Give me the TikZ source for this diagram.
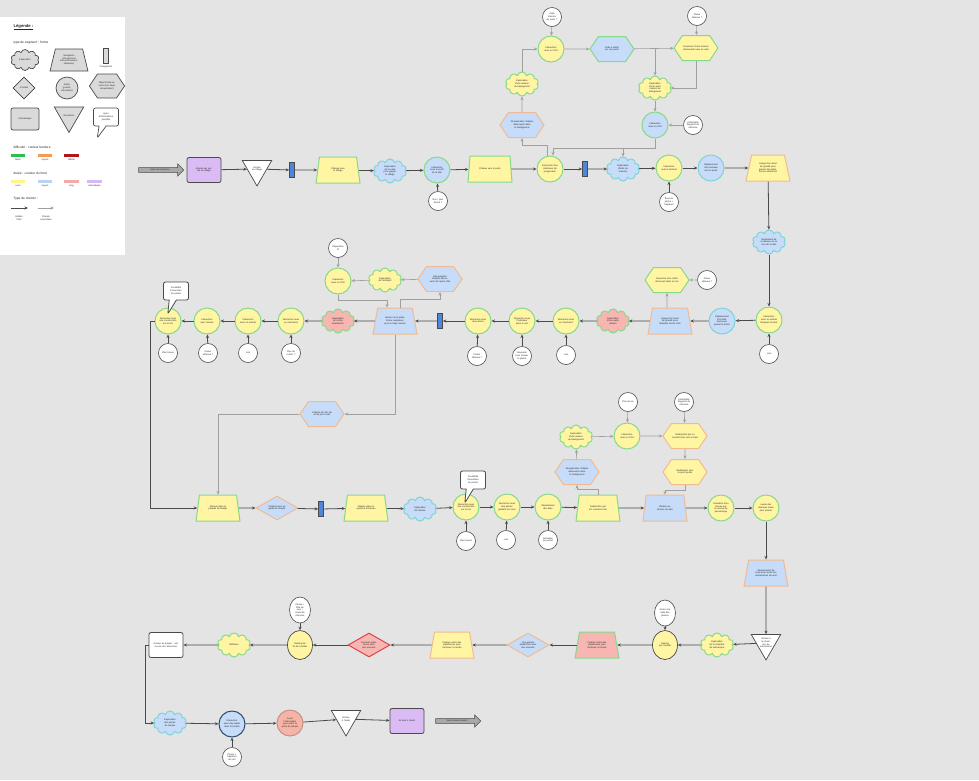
\documentclass[tikz,border=0pt]{standalone}
\usepackage{fontspec}
\setmainfont{Liberation Sans}
\usetikzlibrary{shapes.geometric,shapes.symbols,shapes.misc,shapes.callouts,shapes.arrows,arrows.meta}
\definecolor{bgc}{HTML}{E4E4E4}
\definecolor{yelF}{HTML}{FFF5A3}
\definecolor{bluF}{HTML}{C6DCF8}
\definecolor{pnkF}{HTML}{F7B6B1}
\definecolor{purF}{HTML}{DABBF4}
\definecolor{grnB}{HTML}{86D98A}
\definecolor{orgB}{HTML}{F2BA90}
\definecolor{tealB}{HTML}{7FD3D8}
\definecolor{redB}{HTML}{D9474A}
\definecolor{navB}{HTML}{2F4A6B}
\definecolor{lnC}{HTML}{4A4A4A}
\definecolor{lnD}{HTML}{A0A0A0}
\definecolor{barF}{HTML}{4F86D9}
\definecolor{legF}{HTML}{DADADA}
\definecolor{salF}{HTML}{F6B4A6}
\definecolor{arrF}{HTML}{A8A8A8}
\definecolor{lgG}{HTML}{2EBD4F}
\definecolor{lgO}{HTML}{F39C4F}
\definecolor{lgR}{HTML}{B3141B}
\definecolor{lgY}{HTML}{FFF38A}
\definecolor{lgB}{HTML}{B9D3F5}
\definecolor{lgP}{HTML}{F5AAAA}
\definecolor{lgV}{HTML}{D5B8F5}
\begin{document}
\begin{tikzpicture}[x=1pt,y=-1pt,
 every node/.style={font=\fontsize{2.3}{2.7}\selectfont, align=center, text=black!85},
 nbase/.style={inner sep=0.5pt},
 circ/.style={nbase, circle, line width=1pt, minimum size=26pt, text width=18pt},
 wc/.style={nbase, circle, fill=white, draw=lnC, line width=0.6pt, minimum size=19pt, text width=13pt},
 wel/.style={nbase, ellipse, fill=white, draw=lnC, line width=0.6pt, minimum width=21pt, minimum height=26pt, text width=12pt},
 yel/.style={nbase, ellipse, fill=yelF, draw=lnC, line width=0.7pt, minimum width=25pt, minimum height=29pt, text width=15pt},
 cloudn/.style={nbase, cloud, cloud puffs=10, aspect=1.5, minimum width=33pt, minimum height=24pt, line width=1pt, text width=17pt, inner sep=0pt},
 trap/.style={nbase, trapezium, trapezium left angle=70, trapezium right angle=70, trapezium stretches=true, minimum width=44pt, minimum height=26pt, line width=1pt, text width=22pt},
 hexa/.style={nbase, signal, signal to=east and west, signal pointer angle=112, minimum width=44pt, minimum height=25pt, line width=1pt, text width=26pt},
 diam/.style={nbase, diamond, aspect=1.75, minimum width=42pt, minimum height=24pt, line width=1pt, text width=20pt, inner sep=0pt},
 tri/.style={nbase, regular polygon, regular polygon sides=3, shape border rotate=180, minimum size=32pt, fill=white, draw=lnC, line width=0.7pt, text width=12pt, inner sep=0pt},
 bar/.style={rectangle, fill=barF, draw=lnC, line width=0.6pt, minimum width=5pt, minimum height=15pt, inner sep=0pt},
 rr/.style={nbase, rectangle, rounded corners=2pt, draw=lnC, line width=0.8pt, minimum width=34pt, minimum height=25pt, text width=28pt},
 bubble/.style={nbase, rectangle callout, rounded corners=2pt, fill=white, draw=lnC, line width=0.8pt, minimum width=25pt, minimum height=18pt, text width=20pt, callout relative pointer={(-5pt,-14pt)}},
 bigarrow/.style={nbase, single arrow, fill=arrF, draw=lnC, line width=0.6pt, minimum height=45pt, minimum width=12pt, single arrow head extend=2.5pt, text width=30pt},
 gp/.style={draw=lnC, line width=0.8pt, -{Stealth[length=3.5pt,width=3pt]}},
 sp/.style={draw=lnD, line width=0.6pt, -{Stealth[length=3.5pt,width=3pt]}},
 lg/.style={fill=legF, draw=lnC, line width=0.7pt},
 lbl/.style={anchor=west, font=\fontsize{3.2}{4}\selectfont}
]
\fill[bgc] (0,0) rectangle (979,780);
\useasboundingbox (0,0) rectangle (979,780);
\fill[white] (0,17) rectangle (125,255);

% ---------------- legend
\node[anchor=west, font=\fontsize{4.2}{5}\selectfont\bfseries] (lgT) at (10,27) {\underline{Légende :}};
\node[lbl] (lgS) at (10,43) {type de segment : forme};
\node[cloudn, lg, minimum width=28pt, minimum height=20pt] (lg1) at (25,60) {Exploration};
\node[trap, lg, minimum width=38pt, minimum height=22pt, text width=20pt] (lg2) at (69,60) {Navigation (changement d'environnement, obstacles)};
\node[bar, fill=legF] (lg3) at (106,56) {};
\node (lg3t) at (106,67) {Chargement};
\node[diam, lg, minimum width=22pt, minimum height=22pt, aspect=1, text width=12pt] (lg4) at (24,88) {Combat};
\node[circ, lg, minimum size=22pt, text width=15pt] (lg5) at (67,88) {Action (puzzle, interaction)};
\node[hexa, lg, minimum width=30pt, minimum height=24pt, text width=18pt] (lg6) at (107,86) {Objectif (découverte d'un objet, récupération)};
\node[rr, lg, minimum width=28pt, minimum height=22pt, text width=22pt] (lg7) at (25,119) {Cinématique};
\node[tri, lg] (lg8) at (69,115.5) {Résolution};
\node[bubble, lg, fill=white, callout relative pointer={(-5pt,-12pt)}] (lg9) at (106,117) {Ajout d'informations possible};
\node[lbl] (lgD) at (10,147) {difficulté : couleur bordure};
\fill[lgG] (11,154) rectangle (25,156.5);
\fill[lgO] (38,154) rectangle (52,156.5);
\fill[lgR] (64,154) rectangle (79,156.5);
\node (lgd1) at (18,160) {facile};
\node (lgd2) at (45,160) {moyen};
\node (lgd3) at (71.5,160) {difficile};
\node[lbl] (lgU) at (10,173) {durée : couleur du fond};
\fill[lgY] (11,180) rectangle (25,182.5);
\fill[lgB] (38,180) rectangle (52,182.5);
\fill[lgP] (64,180) rectangle (79,182.5);
\fill[lgV] (87,180) rectangle (102,182.5);
\node (lgu1) at (18,186) {court};
\node (lgu2) at (45,186) {moyen};
\node (lgu3) at (71.5,186) {long};
\node (lgu4) at (94.5,186) {cinématique};
\node[lbl] (lgC) at (10,199) {Type de chemin :};
\coordinate (lga1) at (11,208); \coordinate (lga2) at (28,208);
\coordinate (lga3) at (38,208); \coordinate (lga4) at (54,208);
\draw[gp] (lga1) -- (lga2);
\draw[sp] (lga3) -- (lga4);
\node (lgc1) at (19,218) {Golden\\Path};
\node (lgc2) at (46,218) {Chemin\\secondaire};

% ---------------- row 1
\node[bigarrow] (a0) at (160,170) {Suite de l'aventure};
\node[rr, fill=purF] (p1) at (204,170) {Arrivée par portail au village};
\node[tri] (t1) at (257,169) {Arrivée au village};
\node[bar] (b1) at (292,170) {};
\node[trap, fill=yelF, draw=grnB] (tr1) at (338,170) {Plateau sous le village};
\node[cloudn, fill=bluF, draw=tealB] (cl1) at (390,171) {Exploration de la carte pour gagner le village};
\node[circ, fill=bluF, draw=grnB] (c1) at (437,170) {Interaction avec le profil de la ville};
\node[wc] (w1) at (438,201) {Don / plus donné ?};
\node[trap, fill=yelF, draw=grnB] (tr2) at (490,169) {Plateau vers le puits};
\node[circ, fill=yelF, draw=grnB] (c2) at (550,169) {Interaction d'un indicateur de progression};
\node[bar] (b2) at (585,169) {};
\node[cloudn, fill=bluF, draw=tealB] (cl2) at (623,169) {Exploration (fonds de maison)};
\node[circ, fill=yelF, draw=grnB] (c3) at (669,168) {Interaction avec le festival};
\node[wc] (w3) at (669,202) {Bout de plume + fragment};
\node[circ, fill=bluF, draw=tealB] (c4) at (711,168) {Déplacement d'un tonneau vers la porte};
\node[trap, fill=yelF, draw=orgB] (tr3) at (768,168) {Usage d'un atout de gravité pour passer des plateformes aériennes};

% upper branch
\node[hexa, fill=bluF, draw=orgB] (h1) at (522,125) {Récupération d'objets découverts dans le background};
\node[cloudn, fill=yelF, draw=grnB] (cl3) at (522,84) {Exploration d'une maison du background};
\node[circ, fill=yelF, draw=grnB] (c5) at (551,49) {Interaction avec un PNJ};
\node[wc] (w5) at (552,17) {Code d'accès de porte ?};
\node[hexa, fill=bluF, draw=grnB] (h2) at (612,49) {Code à tester sur une porte};
\node[hexa, fill=yelF, draw=grnB] (h3) at (696,48) {Ouverture d'une réserve découverte avec le code};
\node[wc] (w6) at (697,16) {Plume obtenue ?};
\node[cloudn, fill=yelF, draw=grnB] (cl4) at (655,88) {Exploration d'une autre maison du background};
\node[circ, fill=bluF, draw=grnB] (c6) at (655,125) {Interaction avec un PNJ};
\node[wc] (w7) at (693,125) {Collectable fragment de mémoire};

% right column
\node[cloudn, fill=bluF, draw=tealB] (cl5) at (769,242) {Exploration de la maison sur le mur de la ville};
\node[circ, fill=yelF, draw=grnB] (c7) at (769,320) {Interaction avec un animal bloquant le haut};
\node[wc] (w8) at (769,354) {Loot};

% ---------------- row 2
\node[circ, fill=bluF, draw=tealB] (c8) at (722,321) {Déplacement d'un bâtiment pour passer le décor};
\node[trap, fill=bluF, draw=orgB] (tr4) at (670,321) {Usage d'un atout de gravité pour atteindre l'autre côté};
\node[hexa, fill=yelF, draw=grnB] (h4) at (667,280) {Ouverture d'un coffre découvert dans le mur};
\node[wc] (w9) at (707,280) {Plume obtenue ?};
\node[cloudn, fill=pnkF, draw=grnB] (cl6) at (613,321) {Exploration d'une autre maison};
\node[circ, fill=yelF, draw=grnB] (c9) at (566,321) {Interaction avec un marchand};
\node[wc] (w10) at (566,355) {Loot};
\node[circ, fill=yelF, draw=grnB] (c10) at (522,321) {Interaction avec l'indicateur dans le ciel};
\node[wc] (w11) at (522,356) {Boussole pour trouver la plume};
\node[circ, fill=yelF, draw=grnB] (c11) at (478,321) {Interaction avec des pierres};
\node[wc] (w12) at (477,356) {Plume obtenue ?};
\node[bar] (b3) at (440,321) {};
\node[trap, fill=bluF, draw=orgB] (tr5) at (395,321) {Retour sur la plateforme supérieure pour le trajet suivant};
\node[hexa, fill=bluF, draw=orgB] (h5) at (440,279) {Récupération d'objets découverts de l'autre côté};
\node[cloudn, fill=yelF, draw=grnB] (cl7) at (385,280) {Exploration de l'entrepôt};
\node[circ, fill=yelF, draw=grnB] (c12) at (338,281) {Interaction avec un PNJ};
\node[wc] (w13) at (338,248) {Réparation fil};
\node[cloudn, fill=pnkF, draw=grnB] (cl8) at (338,321) {Exploration du cloître abandonné};
\node[circ, fill=yelF, draw=grnB] (c13) at (291,321) {Interaction avec un marchand};
\node[wc] (w14) at (291,353) {Plus de rocher ?};
\node[circ, fill=yelF, draw=grnB] (c14) at (248,321) {Interaction avec un animal};
\node[wc] (w15) at (248,353) {Loot};
\node[circ, fill=yelF, draw=grnB] (c15) at (207,321) {Interaction avec l'oracle};
\node[wc] (w16) at (208,353) {Plume obtenue ?};
\node[circ, fill=yelF, draw=grnB] (c16) at (168,321) {Interaction avec une construction sur le toit};
\node[wc] (w17) at (168,353) {Plan trouvé};
\node[bubble] (bb1) at (176,291) {Possibilité d'ouverture du portail};

% ---------------- row 3
\node[hexa, fill=bluF, draw=orgB] (h6) at (322,414) {Collecte de clés de sortie pour sortir};
\node[trap, fill=yelF, draw=grnB] (tr6) at (218,508) {Plonger dans le plateau du temple};
\node[diam, fill=bluF, draw=orgB] (d1) at (277,508) {Combat avec un garde du temple};
\node[bar] (b4) at (321,509) {};
\node[trap, fill=yelF, draw=grnB] (tr7) at (366,508) {Plateau dans le système d'écluses};
\node[cloudn, fill=bluF, draw=tealB] (cl9) at (420,509) {Exploration de l'écluse};
\node[circ, fill=yelF, draw=grnB] (c17) at (466,507) {Interaction avec une construction sur le toit};
\node[bubble] (bb2) at (473,480) {Possibilité d'ouverture du portail};
\node[wc] (w18) at (466,541) {Plan trouvé};
\node[circ, fill=yelF, draw=grnB] (c18) at (507,507) {Interaction avec des pièces gardant les murs};
\node[wc] (w19) at (506,540) {Loot};
\node[circ, fill=yelF, draw=grnB] (c19) at (548,507) {Déploiement des ailes};
\node[wc] (w20) at (548,540) {Activation du portail};
\node[trap, fill=yelF, draw=grnB] (tr8) at (598,508) {Redirection par les courants d'air};
\node[hexa, fill=bluF, draw=orgB] (h7) at (577,472) {Récupération d'objets découverts dans le background};
\node[cloudn, fill=yelF, draw=grnB] (cl10) at (576,437) {Exploration d'une maison du background};
\node[circ, fill=yelF, draw=grnB] (c20) at (627,436) {Interaction avec un PNJ};
\node[wc] (w21) at (628,402) {Plus de vie};
\node[hexa, fill=yelF, draw=orgB] (h8) at (685,436) {Redirection par un courant d'air vers le haut};
\node[wc] (w22) at (684,402) {Collectable fragment de mémoire};
\node[hexa, fill=yelF, draw=orgB] (h9) at (685,472) {Redirection vers le point perdu};
\node[trap, fill=bluF, draw=orgB] (tr9) at (665,508) {Plateau au-dessus du vide};
\node[circ, fill=yelF, draw=grnB] (c21) at (721,508) {Activation d'un réseau par la course du personnage};
\node[circ, fill=yelF, draw=grnB] (c22) at (766,508) {Levée des retenues d'eau pour passer};
\node[trap, fill=bluF, draw=orgB] (tr10) at (766,573) {Déplacement de l'eau pour suivre les mécanismes de vent};

% ---------------- row 4
\node[tri] (t2) at (766,643) {Arrivée à la chambre du mécanisme};
\node[cloudn, fill=yelF, draw=grnB] (cl12) at (717,645) {Exploration de la chambre de mécanique};
\node[yel] (c24) at (665,645) {Gaining par combat};
\node[wel] (w24) at (665,613) {Accès à la salle des plumes};
\node[trap, fill=pnkF, draw=grnB] (tr12) at (597,645) {Parkour entre des plateformes pour continuer à monter};
\node[diam, fill=bluF, draw=orgB] (d3) at (528,645) {Une grande plateforme avec des ennemis};
\node[trap, fill=yelF, draw=orgB] (tr11) at (452,645) {Parkour entre des plateformes pour continuer à monter};
\node[diam, fill=pnkF, draw=redB] (d2) at (369,645) {Seconde plateforme avec des ennemis};
\node[yel] (c23) at (300,645) {Gaining de fin de combat};
\node[wel] (w23) at (300,610) {Plume + fiole de soin + cristal de mémoire};
\node[cloudn, fill=yelF, draw=grnB] (cl11) at (234,645) {Réflexion};
\node[rr, fill=white] (r1) at (166,645) {Arrivée au temple : voir la voie de l'ascension};

% ---------------- row 5
\node[cloudn, fill=bluF, draw=tealB] (cl13) at (170,723) {Exploration des pièces du temple};
\node[circ, fill=bluF, draw=navB] (c25) at (232,724) {Interaction avec des objets dans le temple};
\node[wc] (w25) at (232,757) {Plume + fragment de sort};
\node[circ, fill=salF, draw=salF!80!black] (c26) at (290,723) {Jouer l'interruption pour ouvrir la porte du temple};
\node[tri] (t3) at (346,719) {Arrivée à l'autel};
\node[rr, fill=purF] (p2) at (407,721) {Arrivée à l'autel};
\node[bigarrow] (a1) at (457,721) {Suite niveau suivant};

% ---------------- golden path
\draw[gp] (p1) -- (t1);
\draw[gp] (t1) -- (b1);
\draw[gp] (b1) -- (tr1);
\draw[gp] (tr1) -- (cl1);
\draw[gp] (cl1) -- (c1);
\draw[gp] (w1) -- (c1);
\draw[gp] (c1) -- (tr2);
\draw[gp] (tr2) -- (c2);
\draw[gp] (c2) -- (b2);
\draw[gp] (b2) -- (cl2);
\draw[gp] (cl2) -- (c3);
\draw[gp] (w3) -- (c3);
\draw[gp] (c3) -- (c4);
\draw[gp] (c4) -- (tr3);
\draw[gp] (tr3) -- (cl5);
\draw[gp] (cl5) -- (c7);
\draw[gp] (w8) -- (c7);
\draw[gp] (c7) -- (c8);
\draw[gp] (c8) -- (tr4);
\draw[gp] (tr4) -- (cl6);
\draw[gp] (cl6) -- (c9);
\draw[gp] (w10) -- (c9);
\draw[gp] (c9) -- (c10);
\draw[gp] (w11) -- (c10);
\draw[gp] (c10) -- (c11);
\draw[gp] (w12) -- (c11);
\draw[gp] (c11) -- (b3);
\draw[gp] (b3) -- (tr5);
\draw[gp] (tr5) -- (cl8);
\draw[gp] (cl8) -- (c13);
\draw[gp] (w14) -- (c13);
\draw[gp] (c13) -- (c14);
\draw[gp] (w15) -- (c14);
\draw[gp] (c14) -- (c15);
\draw[gp] (w16) -- (c15);
\draw[gp] (c15) -- (c16);
\draw[gp] (w17) -- (c16);
\draw[gp] (c16.west) -- (150,321) |- (tr6.west);
\draw[gp] (tr6) -- (d1);
\draw[gp] (d1) -- (b4);
\draw[gp] (b4) -- (tr7);
\draw[gp] (tr7) -- (cl9);
\draw[gp] (cl9) -- (c17);
\draw[gp] (w18) -- (c17);
\draw[gp] (c17) -- (c18);
\draw[gp] (w19) -- (c18);
\draw[gp] (c18) -- (c19);
\draw[gp] (w20) -- (c19);
\draw[gp] (c19) -- (tr8);
\draw[gp] (tr8) -- (tr9);
\draw[gp] (tr9) -- (c21);
\draw[gp] (c21) -- (c22);
\draw[gp] (c22) -- (tr10);
\draw[gp] (tr10) -- (t2);
\draw[gp] (t2) -- (cl12);
\draw[gp] (cl12) -- (c24);
\draw[gp] (w24) -- (c24);
\draw[gp] (c24) -- (tr12);
\draw[gp] (tr12) -- (d3);
\draw[gp] (d3) -- (tr11);
\draw[gp] (tr11) -- (d2);
\draw[gp] (d2) -- (c23);
\draw[gp] (w23) -- (c23);
\draw[gp] (c23) -- (cl11);
\draw[gp] (cl11) -- (r1);
\draw[gp] (r1.west) -- (145,645) |- (cl13.west);
\draw[gp] (cl13) -- (c25);
\draw[gp] (w25) -- (c25);
\draw[gp] (c25) -- (c26);
\draw[gp] (c26) -- (t3);
\draw[gp] (t3) -- (p2);

% ---------------- secondary paths
\draw[sp] ([xshift=-3pt]c2.north) -- ++(0,-10) -| (h1.south);
\draw[sp] (h1) -- (cl3);
\draw[sp] (cl3.north) |- (c5);
\draw[sp] (w5) -- (c5);
\draw[sp] (c5) -- (h2);
\draw[sp] (h2) -- (h3);
\coordinate (j1) at (655,49);
\draw[sp] (j1) -- (cl4.north);
\draw[sp] (w6) -- (h3);
\draw[sp] (h3.south) |- (cl4.east);
\draw[sp] (cl4) -- (c6);
\draw[sp] (w7) -- (c6);
\draw[sp] (c6.south) -- ++(0,10) -| ([xshift=3pt]c2.north);
\coordinate (j2) at (623,148);
\draw[sp] (j2) -- (cl2.north);
\draw[sp] ([xshift=-3pt]tr4.north) -- (h4.south);
\draw[sp, dashed] (w9) -- (h4);
\draw[sp] (c12.south) -- ++(0,6) -| ([xshift=-8pt]tr5.north);
\draw[sp] ([xshift=5pt]tr5.north) -- ++(0,-8) -| (h5.south);
\draw[sp] (h5) -- (cl7);
\draw[sp] (cl7) -- (c12);
\draw[sp] (w13) -- (c12);
\draw[sp] (tr5.south) |- (h6.east);
\draw[sp] (h6.west) -| (tr6.north);
\draw[sp] (tr8.north) -- ++(0,-5) -| (h7.south);
\draw[sp] (h7) -- (cl10);
\draw[sp] (cl10) -- (c20);
\draw[sp] (w21) -- (c20);
\draw[sp] (c20) -- (h8);
\draw[sp] (w22) -- (h8);
\draw[sp] (h8) -- (h9);
\draw[sp] (h9.south) -- ++(0,5) -| (tr9.north);
\end{tikzpicture}
\end{document}
